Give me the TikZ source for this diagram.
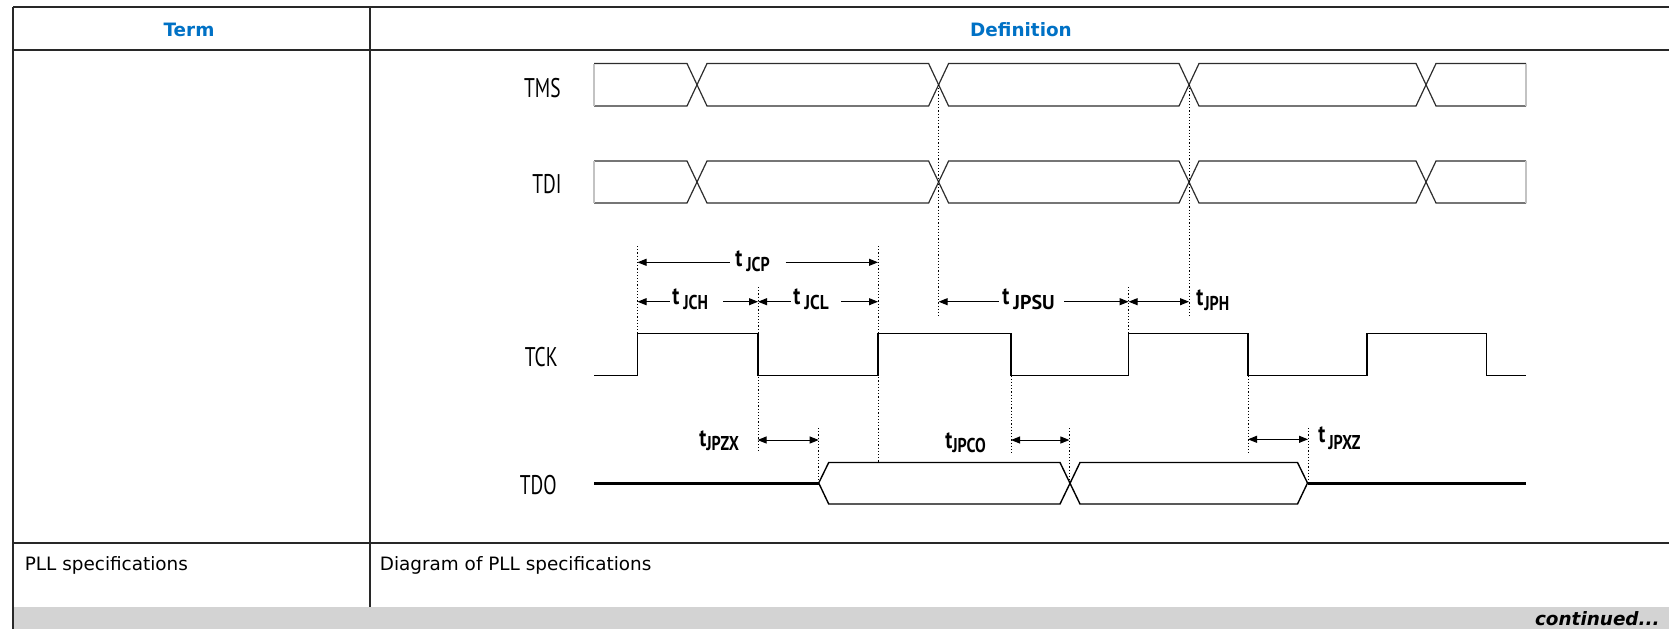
\documentclass[tikz,border=0pt]{standalone}
\usepackage{fontspec}
\setmainfont{DejaVu Sans}
\newfontfamily\sigfont[FakeStretch=0.72]{PT Sans}
\newfontfamily\tfont[FakeStretch=0.8]{PT Sans}
\usetikzlibrary{arrows.meta}
\definecolor{hdrblue}{RGB}{0,113,197}
\definecolor{bandgray}{RGB}{211,211,211}
\definecolor{rulecol}{RGB}{40,40,40}
\definecolor{wavecol}{RGB}{45,45,45}
\definecolor{edgecol}{RGB}{195,195,195}
\newcommand\tsig[3]{{\tfont\bfseries\fontsize{12.5}{13}\selectfont t}\hspace{#1}\raisebox{-#3}{\tfont\bfseries\fontsize{10}{11}\selectfont #2}}
\newcommand\drawbus[2]{%
  \draw[wave] (594,#1) -- (687,#1) -- (707,#2) -- (928.6,#2) -- (948.6,#1) -- (1179,#1) -- (1199,#2) -- (1416,#2) -- (1436,#1) -- (1526,#1);
  \draw[wave] (594,#2) -- (687,#2) -- (707,#1) -- (928.6,#1) -- (948.6,#2) -- (1179,#2) -- (1199,#1) -- (1416,#1) -- (1436,#2) -- (1526,#2);
  \draw[edgeline] (594,#1) -- (594,#2) (1526,#1) -- (1526,#2);}
\begin{document}
\begin{tikzpicture}[x=0.5pt,y=-0.5pt,
  rulestyle/.style={draw=rulecol,line width=0.9pt},
  wave/.style={draw=wavecol,line width=0.6pt,line join=miter},
  edgeline/.style={draw=edgecol,line width=0.6pt},
  clk/.style={draw=black,line width=0.7pt},
  busline/.style={draw=black,line width=1.5pt},
  dotline/.style={draw=black,line width=0.5pt,dash pattern=on 0.6pt off 1pt},
  tip/.tip={Triangle[length=4.5pt,width=3.5pt]},
  both/.style={line width=0.5pt,{tip}-{tip}},
  larr/.style={line width=0.5pt,{tip}-},
  rarr/.style={line width=0.5pt,-{tip}},
  hdr/.style={font=\bfseries\fontsize{9.2}{11}\selectfont,text=hdrblue,anchor=base,inner sep=0pt},
  body/.style={font=\fontsize{9.2}{11}\selectfont,anchor=base west,inner sep=0pt},
  sig/.style={font=\sigfont\fontsize{13.5}{15}\selectfont,anchor=base east,inner sep=0pt},
  tl/.style={anchor=base west,inner sep=0pt}]
\useasboundingbox (0,0) rectangle (1669,629);
% table
\fill[bandgray] (13,607) rectangle (1669,629);
\draw[rulestyle] (13,7) -- (1669,7);
\draw[rulestyle] (13,50) -- (1669,50);
\draw[rulestyle] (13,542.7) -- (1669,542.7);
\draw[rulestyle] (13,7) -- (13,629);
\draw[rulestyle] (370,7) -- (370,607);
\node[hdr] (term) at (189,36) {Term};
\node[hdr] (defn) at (1021,36) {Definition};
\node[body] (pllterm) at (24.5,570) {PLL specifications};
\node[body] (plldef) at (379.5,570) {Diagram of PLL specifications};
\node[anchor=base east,inner sep=0pt,font=\bfseries\itshape\fontsize{9.2}{11}\selectfont] (cont) at (1660,625) {continued...};
% signal labels
\node[sig] (tms) at (561,97) {TMS};
\node[sig] (tdi) at (562,193) {TDI};
\node[sig] (tck) at (558,366) {TCK};
\node[sig] (tdo) at (557,494) {TDO};
% TMS and TDI buses
\drawbus{63.5}{106}
\drawbus{161}{203}
% TCK
\draw[clk] (594,375.3) -- (637.5,375.3) -- (637.5,333.7) -- (758,333.7) -- (758,375.3) -- (878,375.3) -- (878,333.7) -- (1011,333.7) -- (1011,375.3) -- (1128.6,375.3) -- (1128.6,333.7) -- (1248,333.7) -- (1248,375.3) -- (1367,375.3) -- (1367,333.7) -- (1486.5,333.7) -- (1486.5,375.3) -- (1526,375.3);
% TDO
\draw[busline] (594,483) -- (818.7,483);
\draw[busline] (1307.5,483) -- (1526,483);
\draw[clk] (818.7,483) -- (828.7,462.5) -- (1060,462.5) -- (1080,504) -- (1297.5,504) -- (1307.5,483);
\draw[clk] (818.7,483) -- (828.7,504) -- (1060,504) -- (1080,462.5) -- (1297.5,462.5) -- (1307.5,483);
% dotted reference lines
\draw[dotline] (637.5,246) -- (637.5,333.7);
\draw[dotline] (758,287) -- (758,453);
\draw[dotline] (878,246) -- (878,462.5);
\draw[dotline] (938.6,84.7) -- (938.6,316.7);
\draw[dotline] (1011,375.3) -- (1011,453);
\draw[dotline] (1069.4,428) -- (1069.4,483);
\draw[dotline] (818.7,428) -- (818.7,483);
\draw[dotline] (1128.6,287) -- (1128.6,333.7);
\draw[dotline] (1189,84.7) -- (1189,316.7);
\draw[dotline] (1248,375.3) -- (1248,454);
\draw[dotline] (1308,428) -- (1308,483);
% timing labels
\node[tl] (jcp) at (735,266.7) {\tsig{2pt}{JCP}{2.5pt}};
\node[tl] (jch) at (672,304) {\tsig{2pt}{JCH}{2.5pt}};
\node[tl] (jcl) at (793,304) {\tsig{2pt}{\scalebox{1.08}[1]{JCL}}{2.5pt}};
\node[tl] (jpsu) at (1002,304) {\tsig{2pt}{\scalebox{1.25}[1]{JPSU}}{2.5pt}};
\node[tl] (jph) at (1196,305) {\tsig{0.5pt}{JPH}{2.5pt}};
\node[tl] (jpzx) at (699,446.7) {\tsig{0pt}{JPZX}{2pt}};
\node[tl] (jpco) at (945,448) {\tsig{0pt}{JPCO}{2pt}};
\node[tl] (jpxz) at (1318,442.7) {\tsig{1.5pt}{JPXZ}{3.5pt}};
% timing arrows
\draw[larr] (637.5,262.3) -- (730,262.3);
\draw[rarr] (785.5,262.3) -- (878,262.3);
\draw[larr] (637.5,301.7) -- (670,301.7);
\draw[rarr] (723,301.7) -- (758,301.7);
\draw[larr] (758,301.7) -- (791,301.7);
\draw[rarr] (841,301.7) -- (878,301.7);
\draw[larr] (938.6,301.7) -- (999,301.7);
\draw[rarr] (1064,301.7) -- (1128.6,301.7);
\draw[both] (1128.6,301.7) -- (1189,301.7);
\draw[both] (757.5,440) -- (818.7,440);
\draw[both] (1011,440) -- (1069.4,440);
\draw[both] (1248,439.3) -- (1308,439.3);
\end{tikzpicture}
\end{document}
